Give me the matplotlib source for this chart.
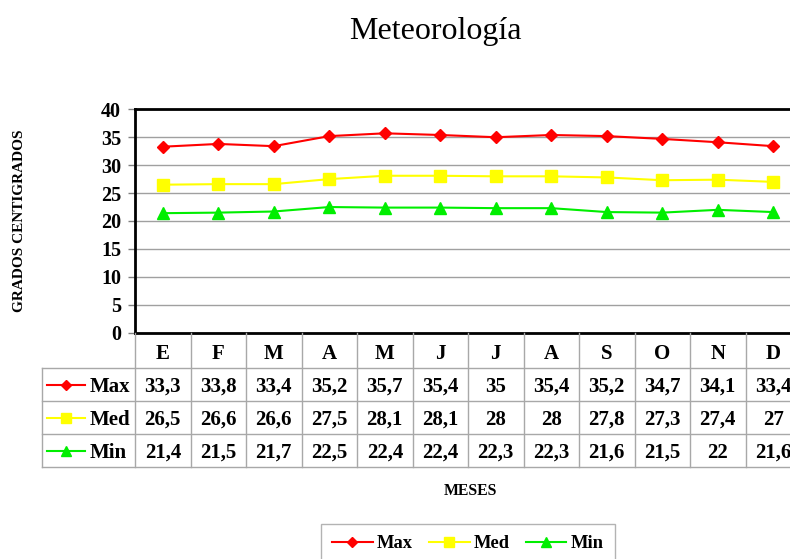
import matplotlib
matplotlib.use("Agg")
import matplotlib.pyplot as plt
from matplotlib.lines import Line2D

plt.rcParams['font.family'] = ['Liberation Serif', 'DejaVu Serif']

months = ["E", "F", "M", "A", "M", "J", "J", "A", "S", "O", "N", "D"]
max_vals = [33.3, 33.8, 33.4, 35.2, 35.7, 35.4, 35.0, 35.4, 35.2, 34.7, 34.1, 33.4]
med_vals = [26.5, 26.6, 26.6, 27.5, 28.1, 28.1, 28.0, 28.0, 27.8, 27.3, 27.4, 27.0]
min_vals = [21.4, 21.5, 21.7, 22.5, 22.4, 22.4, 22.3, 22.3, 21.6, 21.5, 22.0, 21.6]
series_names = ["Max", "Med", "Min"]
yticks = [0, 5, 10, 15, 20, 25, 30, 35, 40]

series = [max_vals, med_vals, min_vals]
colors = ["#ff0000", "#ffff00", "#00ee00"]
markers = ["D", "s", "^"]
msizes = [6, 9, 8]

W, H = 790, 559
fig = plt.figure(figsize=(W / 100, H / 100), dpi=100)

def frac(x0, y0, x1, y1):
    return [x0 / W, 1 - y1 / H, (x1 - x0) / W, (y1 - y0) / H]

# main plot area
ax = fig.add_axes(frac(135, 109.3, 801, 332.7))
n = len(months)
xs = list(range(n))
for vals, c, m, ms, name in zip(series, colors, markers, msizes, series_names):
    ax.plot(xs, vals, color=c, marker=m, markersize=ms, linewidth=1.5, label=name)
ax.set_xlim(-0.5, n - 0.5)
ax.set_ylim(0, 40)
ax.set_yticks(yticks)
ax.set_yticklabels([str(t) for t in yticks], fontsize=14.5, fontweight='bold')
ax.set_xticks([])
ax.grid(axis='y', color='#a0a0a0', linewidth=1)
ax.set_axisbelow(True)
for s in ax.spines.values():
    s.set_linewidth(2)
    s.set_color('black')
ax.tick_params(axis='y', length=5, width=1, color='#808080', pad=5)
ax.set_ylabel("GRADOS CENTIGRADOS", fontsize=11, fontweight='bold', va='center')
ax.yaxis.set_label_coords((20 - 135) / (801 - 135), 0.5)

# data table
colw = 55.5
lab_w = 93
tax = fig.add_axes(frac(42, 333, 801, 467))
tax.set_xlim(-0.5 - lab_w / colw, n - 0.5)
tax.set_ylim(467, 333)
tax.axis('off')
gc = '#a8a8a8'
row_y = [333, 368, 401, 434, 467]
for i in range(n + 1):
    tax.plot([i - 0.5, i - 0.5], [333, 467], color=gc, lw=1, clip_on=False)
xl = -0.5 - lab_w / colw
tax.plot([xl, xl], [368, 467], color=gc, lw=1, clip_on=False)
for y in row_y[1:]:
    tax.plot([xl, n - 0.5], [y, y], color=gc, lw=1, clip_on=False)
for i, mth in enumerate(months):
    tax.text(i, (333 + 368) / 2 + 1, mth, ha='center', va='center_baseline',
             fontsize=15, fontweight='bold')

def fmt(v):
    s = ("%.1f" % v).rstrip('0').rstrip('.')
    return s.replace('.', ',')

for r, (vals, c, m, ms, name) in enumerate(zip(series, colors, markers, msizes, series_names)):
    yc = (row_y[r + 1] + row_y[r + 2]) / 2
    for i, v in enumerate(vals):
        tax.text(i, yc, fmt(v), ha='center', va='center_baseline', fontsize=15, fontweight='bold')
    x0 = xl + 5 / colw
    x1 = xl + 43 / colw
    tax.plot([x0, x1], [yc, yc], color=c, lw=1.5, clip_on=False)
    tax.plot([(x0 + x1) / 2], [yc], color=c, marker=m, markersize=ms * 0.85, clip_on=False)
    tax.text(xl + 48 / colw, yc, name, ha='left', va='center_baseline', fontsize=15, fontweight='bold')

# title and axis label
fig.text(435 / W, 1 - 31 / H, "Meteorología", ha='center', va='center', fontsize=23)
fig.text(470 / W, 1 - 491 / H, "MESES", ha='center', va='center', fontsize=11.3, fontweight='bold')

# legend
handles = [Line2D([0], [0], color=c, marker=m, markersize=ms * 0.85, lw=1.5)
           for c, m, ms in zip(colors, markers, msizes)]
leg = fig.legend(handles, series_names, loc='upper center', bbox_to_anchor=(468 / W, 1 - 524 / H),
                 ncol=3, frameon=True, fancybox=False, edgecolor='#a0a0a0',
                 prop={'size': 13.3, 'weight': 'bold'}, handlelength=2.2, columnspacing=0.85,
                 handletextpad=0.25, borderpad=0.6, borderaxespad=0)
leg.get_frame().set_linewidth(1)

fig.savefig("out.png", dpi=100)
